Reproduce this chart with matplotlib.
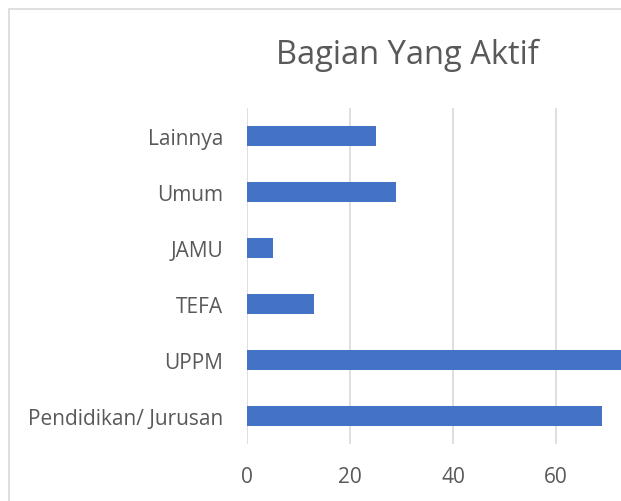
import matplotlib.pyplot as plt
from matplotlib.patches import Rectangle

# data (bottom to top)
categories = ['Pendidikan/ Jurusan', 'UPPM', 'TEFA', 'JAMU', 'Umum', 'Lainnya']
values = [69, 75, 13, 5, 29, 25]
xticks = [0, 20, 40, 60]

plt.rcParams['font.family'] = ['Open Sans', 'DejaVu Sans']
text_color = '#595959'
grid_color = '#d9d9d9'

fig = plt.figure(figsize=(6.21, 5.02), dpi=100)

# outer chart frame (right/bottom edges are cut off in the original)
fig.patches.append(Rectangle((9 / 621, -0.1), 1.2, 1 - 10 / 502 + 0.1,
                             transform=fig.transFigure, fill=False,
                             edgecolor=grid_color, linewidth=1.2))

# axes deliberately runs past the right edge
ax = fig.add_axes([247 / 621, 1 - 445 / 502, 412 / 621, 336 / 502])
ax.barh(range(len(categories)), values, height=0.36, color='#4472C4', zorder=3)
ax.set_ylim(-0.5, len(categories) - 0.5)
ax.set_xlim(0, 80)
ax.set_xticks(xticks)
ax.set_yticks(range(len(categories)))
ax.set_yticklabels(categories)
ax.grid(axis='x', color=grid_color, linewidth=1.2, zorder=0)
for s in ax.spines.values():
    s.set_visible(False)
ax.tick_params(length=0, labelsize=15, colors=text_color)
ax.tick_params(axis='x', pad=16)
ax.tick_params(axis='y', pad=17)

fig.text(407 / 621, 1 - 55 / 502, 'Bagian Yang Aktif', ha='center', va='center',
         fontsize=23.5, color=text_color)

plt.savefig('out.png', dpi=100)
